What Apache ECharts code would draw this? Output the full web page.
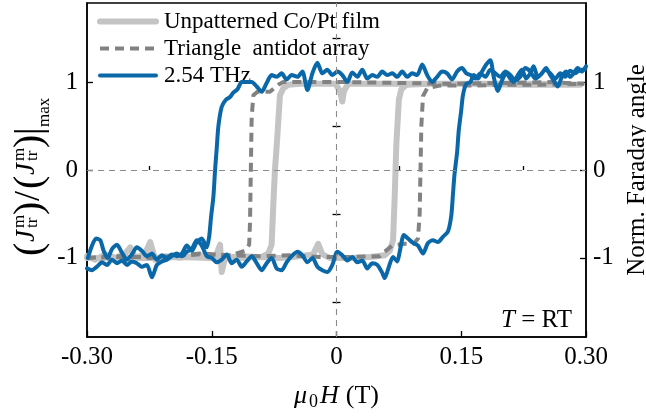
<!DOCTYPE html>
<html><head><meta charset="utf-8">
<script src="https://cdn.jsdelivr.net/npm/echarts@6/dist/echarts.min.js"></script>
<style>html,body{margin:0;padding:0;background:#fff;overflow:hidden}#c{width:646px;height:416px}</style>
</head><body><div id="c"></div>
<script>
const xTicks = [-0.30, -0.15, 0, 0.15, 0.30];
const xMinorTicks = [-0.225, -0.075, 0.075, 0.225];
const yTicks = [-1, 0, 1];
const yMinorTicks = [-1.5, -0.5, 0.5, 1.5];
const seriesNames = ['Unpatterned Co/Pt film', 'Triangle  antidot array', '2.54 THz'];

// Unpatterned Co/Pt film: ascending-field branch, then descending-field branch
const filmUp = [[-0.300,-0.98],[-0.290,-1.02],[-0.278,-0.96],[-0.266,-1.00],[-0.254,-0.95],[-0.248,-0.88],[-0.242,-1.00],[-0.230,-0.95],[-0.224,-0.82],[-0.218,-1.02],[-0.206,-0.98],[-0.188,-1.00],[-0.164,-0.97],[-0.146,-1.00],[-0.140,-0.85],[-0.138,-1.16],[-0.134,-1.00],[-0.116,-0.98],[-0.092,-0.99],[-0.068,-1.00],[-0.044,-0.98],[-0.028,-0.96],[-0.022,-0.84],[-0.017,-0.96],[-0.008,-1.00],[0.016,-1.00],[0.040,-0.99],[0.058,-0.97],[0.064,-0.92],[0.068,-0.80],[0.070,-0.30],[0.071,0.00],[0.072,0.30],[0.075,0.80],[0.078,0.92],[0.084,0.97],[0.112,0.98],[0.161,0.98],[0.221,0.97],[0.269,0.97],[0.293,0.97]];
const filmDown = [[0.293,0.97],[0.245,0.98],[0.173,0.98],[0.100,0.98],[0.052,0.98],[0.014,0.98],[0.009,0.90],[0.007,0.78],[0.004,0.90],[-0.001,0.98],[-0.044,0.98],[-0.058,0.97],[-0.064,0.93],[-0.068,0.85],[-0.071,0.40],[-0.074,0.00],[-0.076,-0.40],[-0.078,-0.85],[-0.082,-0.95],[-0.090,-0.99],[-0.116,-1.00],[-0.152,-1.00],[-0.188,-0.99],[-0.224,-1.00],[-0.260,-1.00],[-0.300,-1.00]];

// Triangle antidot array
const triUp = [[-0.300,-1.00],[-0.260,-0.98],[-0.224,-1.00],[-0.188,-0.97],[-0.164,-0.95],[-0.128,-0.97],[-0.092,-0.98],[-0.056,-0.97],[-0.020,-0.99],[0.016,-0.99],[0.052,-0.98],[0.058,-0.93],[0.067,-0.86],[0.082,-0.84],[0.093,-0.84],[0.098,-0.78],[0.100,-0.50],[0.101,0.00],[0.102,0.50],[0.104,0.84],[0.109,0.93],[0.124,0.96],[0.161,0.96],[0.197,0.97],[0.245,0.97],[0.298,0.98]];
const triDown = [[0.298,0.99],[0.257,1.00],[0.197,0.99],[0.137,0.98],[0.076,0.99],[0.016,1.00],[-0.044,1.00],[-0.064,1.00],[-0.070,0.97],[-0.080,0.89],[-0.095,0.89],[-0.100,0.85],[-0.102,0.60],[-0.103,0.00],[-0.104,-0.60],[-0.105,-0.85],[-0.110,-0.92],[-0.128,-0.97],[-0.164,-0.96],[-0.212,-0.99],[-0.260,-0.99],[-0.300,-1.00]];

// 2.54 THz
const thzUp = [[-0.300,-1.12],[-0.294,-1.14],[-0.288,-1.10],[-0.282,-1.05],[-0.276,-1.08],[-0.270,-1.02],[-0.264,-1.06],[-0.258,-1.03],[-0.252,-1.08],[-0.246,-1.04],[-0.240,-1.06],[-0.234,-1.10],[-0.228,-1.08],[-0.222,-1.22],[-0.216,-1.08],[-0.210,-1.04],[-0.204,-1.02],[-0.198,-0.98],[-0.192,-0.95],[-0.186,-0.98],[-0.180,-0.93],[-0.174,-0.90],[-0.168,-0.80],[-0.162,-0.86],[-0.156,-0.98],[-0.150,-1.00],[-0.144,-1.05],[-0.138,-1.02],[-0.132,-0.96],[-0.126,-1.06],[-0.120,-1.02],[-0.114,-1.10],[-0.108,-1.04],[-0.102,-0.98],[-0.096,-1.06],[-0.090,-1.14],[-0.084,-1.06],[-0.078,-1.00],[-0.072,-1.12],[-0.066,-1.14],[-0.060,-1.05],[-0.054,-0.98],[-0.047,-0.93],[-0.041,-0.97],[-0.035,-1.05],[-0.029,-1.00],[-0.023,-1.10],[-0.017,-1.14],[-0.011,-1.16],[-0.005,-1.08],[0.001,-0.93],[0.007,-0.97],[0.013,-1.03],[0.019,-0.99],[0.025,-1.05],[0.031,-1.03],[0.037,-1.12],[0.043,-1.06],[0.049,-1.08],[0.055,-1.17],[0.058,-1.23],[0.063,-1.10],[0.068,-0.99],[0.073,-1.04],[0.076,-0.93],[0.081,-0.74],[0.086,-0.78],[0.092,-0.83],[0.098,-0.86],[0.104,-0.95],[0.110,-0.83],[0.116,-0.80],[0.122,-0.82],[0.128,-0.76],[0.134,-0.70],[0.138,-0.52],[0.140,-0.28],[0.142,-0.04],[0.145,0.20],[0.147,0.45],[0.150,0.68],[0.152,0.85],[0.156,0.98],[0.161,1.00],[0.165,1.08],[0.170,1.04],[0.175,1.12],[0.180,1.20],[0.185,1.25],[0.189,1.06],[0.194,0.90],[0.199,1.02],[0.204,1.10],[0.209,1.04],[0.213,1.00],[0.218,1.08],[0.223,1.14],[0.228,1.04],[0.233,1.10],[0.237,1.18],[0.242,1.06],[0.247,1.10],[0.252,1.16],[0.257,1.08],[0.261,1.02],[0.266,0.95],[0.271,1.06],[0.276,1.12],[0.281,1.06],[0.285,1.10],[0.290,1.16],[0.295,1.12],[0.300,1.18]];
const thzDown = [[0.298,1.14],[0.293,1.14],[0.287,1.10],[0.281,1.13],[0.275,1.06],[0.269,1.10],[0.263,1.04],[0.257,1.10],[0.251,1.14],[0.245,1.08],[0.239,1.04],[0.233,1.12],[0.227,1.16],[0.221,1.06],[0.215,1.02],[0.209,1.08],[0.203,1.12],[0.197,1.06],[0.191,1.10],[0.185,1.14],[0.179,1.06],[0.173,1.10],[0.167,1.04],[0.161,1.08],[0.156,1.10],[0.151,1.16],[0.145,1.12],[0.139,1.03],[0.133,1.10],[0.127,1.12],[0.121,1.06],[0.115,1.00],[0.109,1.08],[0.103,1.20],[0.097,1.08],[0.091,1.10],[0.085,1.06],[0.079,1.12],[0.073,1.06],[0.067,1.10],[0.061,1.08],[0.055,1.12],[0.049,1.06],[0.043,1.08],[0.037,1.04],[0.031,1.14],[0.025,1.06],[0.019,1.11],[0.013,1.00],[0.007,1.08],[0.001,1.12],[-0.005,1.08],[-0.011,1.14],[-0.017,1.10],[-0.023,1.22],[-0.029,1.10],[-0.035,0.91],[-0.041,1.12],[-0.047,1.06],[-0.054,1.08],[-0.060,1.03],[-0.066,1.10],[-0.072,1.06],[-0.078,1.08],[-0.084,0.99],[-0.090,0.89],[-0.096,0.95],[-0.102,1.00],[-0.108,1.00],[-0.114,1.00],[-0.119,0.92],[-0.124,0.88],[-0.128,0.83],[-0.133,0.80],[-0.138,0.72],[-0.142,0.50],[-0.144,0.25],[-0.146,0.00],[-0.148,-0.30],[-0.151,-0.55],[-0.153,-0.75],[-0.156,-0.88],[-0.162,-0.78],[-0.168,-0.82],[-0.174,-0.92],[-0.180,-0.86],[-0.186,-0.95],[-0.192,-0.98],[-0.198,-0.96],[-0.204,-1.00],[-0.210,-0.97],[-0.216,-1.02],[-0.222,-0.95],[-0.228,-0.98],[-0.234,-0.92],[-0.240,-0.88],[-0.246,-0.96],[-0.252,-1.02],[-0.258,-0.94],[-0.264,-0.85],[-0.270,-0.90],[-0.275,-1.00],[-0.280,-0.92],[-0.284,-0.80],[-0.289,-0.78],[-0.294,-0.86],[-0.299,-1.00]];

const FONT = '"Liberation Serif", "Times New Roman", serif';
const COLORS = ['#c4c4c4', '#828282', '#0b68a8'];
const chart = echarts.init(document.getElementById('c'), null, {renderer: 'canvas', width: 646, height: 416});

function tx(str, u, v, size, italic) {
  return {type: 'text', x: u, y: v, style: {text: str, font: (italic ? 'italic ' : '') + size + 'px ' + FONT, fill: '#000', textAlign: 'left', textVerticalAlign: 'middle', verticalAlign: 'middle'}};
}

const yLeftTitle = {
  type: 'group', x: 30, y: 256, rotation: Math.PI / 2,
  children: [
    tx('(', 0, 0, 40, false),
    tx('J', 14, -3, 27, true),
    tx('m', 28, -10, 17, false),
    tx('tr', 28, 3, 17, false),
    tx(')', 41, 0, 40, false),
    tx('/', 55, 0, 36, false),
    tx('(', 67, 0, 40, false),
    tx('J', 81, -3, 27, true),
    tx('m', 95, -10, 17, false),
    tx('tr', 95, 3, 17, false),
    tx(')', 108, 0, 40, false),
    tx('|', 121, 1, 38, false),
    tx('max', 129, 15, 17, false)
  ]
};

const lineCommon = {type: 'line', symbol: 'none', showSymbol: false, animation: false, silent: true};

const option = {
  animation: false,
  textStyle: {fontFamily: FONT},
  grid: {left: 87, right: 60, top: 3, bottom: 79, outerBoundsMode: 'none', containLabel: false,
    show: true, borderColor: '#000', borderWidth: 1.5, backgroundColor: 'transparent'},
  legend: {
    data: [
      {name: seriesNames[0], lineStyle: {width: 6, color: COLORS[0]}},
      {name: seriesNames[1], lineStyle: {width: 4, color: COLORS[1], type: [9, 6]}},
      {name: seriesNames[2], lineStyle: {width: 4, color: COLORS[2]}}
    ],
    orient: 'vertical', left: 92, top: 5, itemWidth: 56, itemHeight: 14, itemGap: 4,
    itemStyle: {opacity: 0, color: 'transparent', borderWidth: 0},
    textStyle: {fontSize: 23, fontFamily: FONT, color: '#000', lineHeight: 23, padding: [0, 0, 0, 3]},
    selectedMode: false
  },
  xAxis: [{
    type: 'value', min: -0.30, max: 0.30, interval: 0.15, position: 'bottom',
    axisLine: {show: true, onZero: false, lineStyle: {color: '#000', width: 1.5}},
    axisTick: {show: true, inside: true, length: 6, lineStyle: {color: '#000', width: 1.3}, customValues: xTicks},
    minorTick: {show: false},
    axisLabel: {fontSize: 25, color: '#000', fontFamily: FONT, margin: 8, customValues: xTicks,
      formatter: v => (Math.abs(v) < 1e-9 ? '0' : v.toFixed(2))},
    splitLine: {show: false},
    name: '{i|μ}{s|0}{h|H}{n|(T)}', nameLocation: 'middle', nameGap: 45,
    nameTextStyle: {fontSize: 26, color: '#000', fontFamily: FONT,
      rich: {i: {fontStyle: 'italic', fontSize: 26, fontFamily: FONT, color: '#000', padding: [0, 2, 0, 0]},
             h: {fontStyle: 'italic', fontSize: 26, fontFamily: FONT, color: '#000', padding: [0, 7, 0, 0]},
             n: {fontSize: 26, fontFamily: FONT, color: '#000'},
             s: {fontSize: 18, fontFamily: FONT, color: '#000', verticalAlign: 'bottom', padding: [11, 2, 0, 0]}}}
  }, {
    type: 'value', min: -0.30, max: 0.30, position: 'bottom', offset: 0,
    axisLine: {show: false}, axisLabel: {show: false}, splitLine: {show: false},
    axisTick: {show: true, inside: true, length: 4, lineStyle: {color: '#000', width: 1.3}, customValues: xMinorTicks}
  }],
  yAxis: [{
    type: 'value', min: -1.9, max: 1.9, position: 'left',
    axisLine: {show: true, onZero: false, lineStyle: {color: '#000', width: 1.5}},
    axisTick: {show: true, inside: true, length: 6, lineStyle: {color: '#000', width: 1.3}, customValues: yTicks},
    axisLabel: {fontSize: 25, color: '#000', fontFamily: FONT, margin: 9, customValues: yTicks, formatter: v => String(v)},
    splitLine: {show: false}
  }, {
    type: 'value', min: -1.9, max: 1.9, position: 'right',
    axisLine: {show: true, onZero: false, lineStyle: {color: '#000', width: 1.5}},
    axisTick: {show: true, inside: true, length: 6, lineStyle: {color: '#000', width: 1.3}, customValues: yTicks},
    axisLabel: {fontSize: 25, color: '#000', fontFamily: FONT, margin: 7, customValues: yTicks, formatter: v => String(v)},
    splitLine: {show: false},
    name: 'Norm. Faraday angle', nameLocation: 'middle', nameRotate: 90, nameGap: 35,
    nameTextStyle: {fontSize: 25, color: '#000', fontFamily: FONT}
  }, {
    type: 'value', min: -1.9, max: 1.9, position: 'left', offset: 0,
    axisLine: {show: false}, axisLabel: {show: false}, splitLine: {show: false},
    axisTick: {show: true, inside: true, length: 4, lineStyle: {color: '#000', width: 1.3}, customValues: yMinorTicks}
  }, {
    type: 'value', min: -1.9, max: 1.9, position: 'right', offset: 0,
    axisLine: {show: false}, axisLabel: {show: false}, splitLine: {show: false},
    axisTick: {show: true, inside: true, length: 4, lineStyle: {color: '#000', width: 1.3}, customValues: yMinorTicks}
  }],
  graphic: [
    yLeftTitle,
    {type: 'text', right: 74, top: 308, style: {rich: {i: {fontStyle: 'italic', fontSize: 25, fontFamily: FONT, fill: '#000'}, n: {fontSize: 25, fontFamily: FONT, fill: '#000'}}, text: '{i|T}{n| = RT}', font: '25px ' + FONT, fill: '#000'}}
  ],
  series: [
    Object.assign({}, lineCommon, {
      name: '_zero', data: [], z: 1,
      markLine: {silent: true, symbol: ['none', 'none'], label: {show: false}, animation: false,
        lineStyle: {color: '#8a8a8a', width: 1.1, type: [6, 5]},
        data: [{yAxis: 0}, {xAxis: 0}]}
    }),
    Object.assign({}, lineCommon, {
      name: seriesNames[0], data: filmUp.concat(filmDown), z: 2,
      lineStyle: {color: COLORS[0], width: 6, cap: 'round', join: 'round'}, itemStyle: {color: COLORS[0]}
    }),
    Object.assign({}, lineCommon, {
      name: seriesNames[1], data: triUp.concat(triDown), z: 3,
      lineStyle: {color: COLORS[1], width: 4, type: [9, 6]}, itemStyle: {color: COLORS[1]}
    }),
    Object.assign({}, lineCommon, {
      name: seriesNames[2], data: thzUp.concat(thzDown), z: 4, smooth: 0.25,
      lineStyle: {color: COLORS[2], width: 4, cap: 'round', join: 'round'}, itemStyle: {color: COLORS[2]}
    })
  ]
};
chart.setOption(option);
</script>
</body></html>
